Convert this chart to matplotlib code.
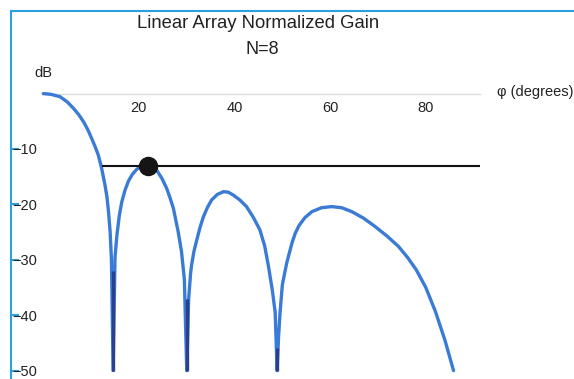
import matplotlib
matplotlib.use("Agg")
import matplotlib.pyplot as plt

plt.rcParams['font.family'] = ['Liberation Sans', 'DejaVu Sans']

# ---- data ----
phi_deg = [0, 1.5, 3.5, 5.0, 6.3, 7.4, 8.4, 9.3, 10.1, 10.8, 11.5, 12.2, 12.9, 13.3, 13.6, 13.97,
           14.25, 14.6,
           15.0, 15.4, 15.9, 16.4, 17.1, 17.8, 18.6, 19.5, 20.6, 21.8, 22.8, 23.7, 24.8, 25.8,
           26.5, 27.2, 28.2, 28.9, 29.5, 30.0,
           30.4, 30.8, 31.0, 31.5, 32.1, 32.8, 33.5, 34.3, 35.2, 36.4, 37.7, 38.7, 39.7, 41.1,
           42.5, 43.9, 45.3, 46.3, 47.1, 47.9, 48.5, 48.9,
           49.2, 49.5, 50.0, 50.9, 52.0, 52.7, 53.5, 54.7, 56.2, 58.2, 60.3, 62.4, 64.5, 67.0,
           69.4, 72.0, 74.3, 76.2, 78.0, 80.0, 82.0, 84.0, 85.8]
gain_db = [0, -0.12, -0.56, -1.5, -2.65, -3.8, -5.07, -6.5, -8.07, -9.5, -11.1, -13.5, -16.5,
           -18.6, -21.0, -24.9, -30.0, -50,
           -29.5, -25.5, -22.0, -19.6, -17.4, -15.8, -14.6, -13.7, -13.0, -12.8, -13.1, -13.8,
           -15.3, -17.1, -18.8, -20.7, -24.9, -28.5, -33.5, -50,
           -37.0, -32.5, -31.0, -28.5, -26.4, -24.1, -22.2, -20.6, -19.2, -18.2, -17.7, -17.8,
           -18.3, -19.2, -20.4, -22.3, -24.6, -27.5, -31.2, -35.5, -39.5, -50,
           -44.0, -39.7, -34.5, -30.6, -27.0, -25.2, -23.8, -22.4, -21.3, -20.6, -20.4, -20.6,
           -21.3, -22.5, -24.0, -25.8, -27.6, -29.6, -31.8, -35.0, -39.3, -44.5, -50]

null_phi = [14.6, 30.0, 48.9]
null_dark_top = [-32, -37, -46]

sidelobe_phi = 21.8
sidelobe_db = -13.0
level_line_start = 12.2
level_line_end = 91.4

x_ticks = [20, 40, 60, 80]
y_ticks = [-10, -20, -30, -40, -50]
y_tick_labels = ['\u221210', '\u221220', '\u221230', '\u221240', '\u221250']

title = 'Linear Array Normalized Gain'
subtitle = 'N=8'
x_label = '\u03c6 (degrees)'
y_label = 'dB'

# ---- figure ----
W, H = 574, 379
fig = plt.figure(figsize=(W / 100, H / 100), dpi=100)
ax = fig.add_axes([11 / W, 0, (W - 11) / W, (H - 11) / H])
ax.set_xlim(-6.76, 111.0)
ax.set_ylim(-51.52, 14.91)

curve_color = '#3a7bd5'
ax.plot(phi_deg, gain_db, color=curve_color, lw=2.4, solid_joinstyle='round',
        solid_capstyle='round', zorder=3, clip_on=False)
ax.vlines(null_phi, null_dark_top, [-50] * len(null_phi), color='#2c3f8c', lw=2.4, zorder=4)

ax.hlines(sidelobe_db, level_line_start, level_line_end, color='#111111', lw=1.5, zorder=5)
ax.plot([sidelobe_phi], [sidelobe_db], 'o', color='#151515', ms=13, zorder=6)

# spines
ax.spines['right'].set_visible(False)
ax.spines['top'].set_color('#2aa0e0')
ax.spines['top'].set_linewidth(1.5)
ax.spines['left'].set_color('#2aa0e0')
ax.spines['left'].set_linewidth(1.5)
ax.spines['bottom'].set_position(('data', 0))
ax.spines['bottom'].set_bounds(0, level_line_end)
ax.spines['bottom'].set_color('#dcdcdc')
ax.spines['bottom'].set_linewidth(1.0)

ax.set_xticks(x_ticks)
ax.set_xticklabels([str(v) for v in x_ticks])
ax.tick_params(axis='x', length=0, pad=5.5, labelsize=10.5, labelcolor='#222222')

ax.set_yticks(y_ticks)
ax.set_yticklabels(y_tick_labels)
ax.tick_params(axis='y', direction='in', length=6, width=1.5, color='#2aa0e0',
               pad=-0.8, labelsize=10.5, labelcolor='#222222')
for lab in ax.get_yticklabels():
    lab.set_horizontalalignment('left')

ax.text(0, 3.8, y_label, ha='center', va='center', fontsize=10.5, color='#222222')
ax.text(94.9, 0.2, x_label, ha='left', va='center', fontsize=10.5, color='#222222',
        clip_on=False)

fig.text(258 / W, 1 - 23 / H, title, ha='center', va='center', fontsize=13.3, color='#222222')
fig.text(262 / W, 1 - 50 / H, subtitle, ha='center', va='center', fontsize=13, color='#222222')

fig.savefig('out.png', dpi=100)
